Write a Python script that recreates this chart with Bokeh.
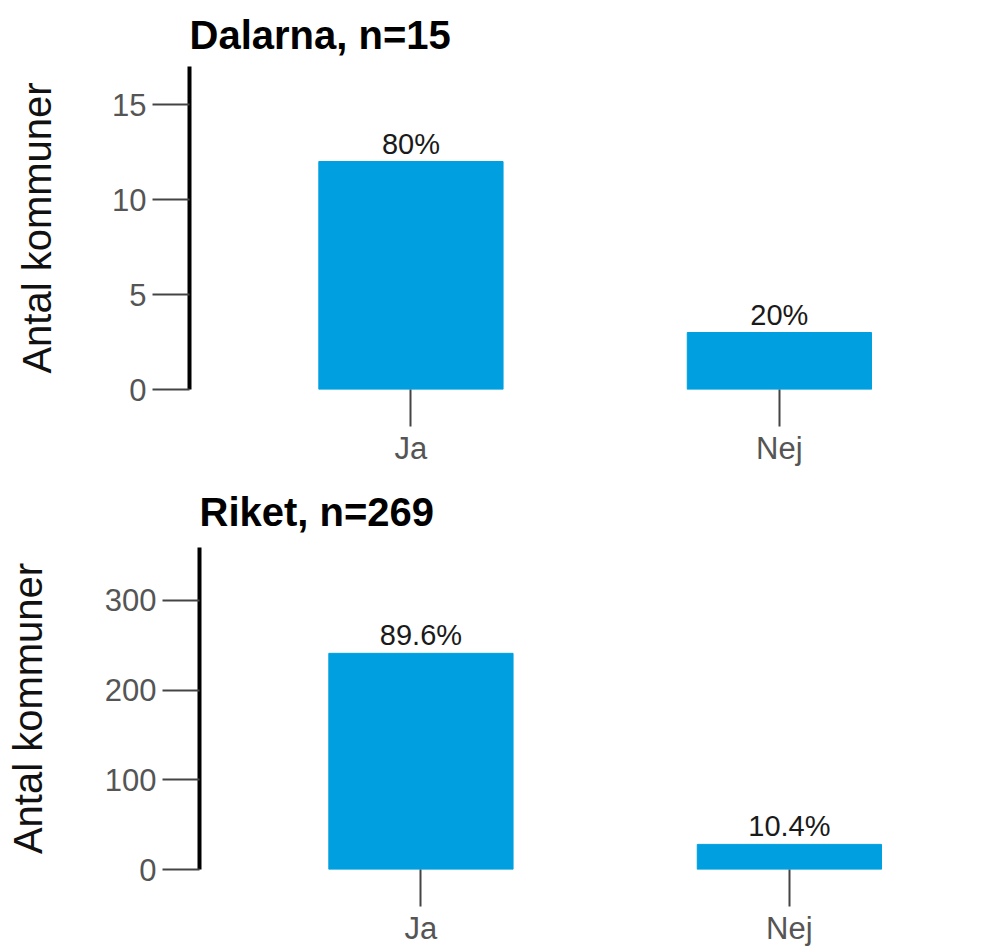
from bokeh.plotting import figure
from bokeh.models import ColumnDataSource, FixedTicker, Range1d, Spacer
from bokeh.layouts import column, row
from bokeh.core.properties import value
from bokeh.embed import file_html
from bokeh.resources import INLINE

categories = ["Ja", "Nej"]
dalarna_title = "Dalarna, n=15"
dalarna_n = 15
dalarna_counts = [12, 3]
dalarna_yticks = [0, 5, 10, 15]
dalarna_ymax = 17
riket_title = "Riket, n=269"
riket_n = 269
riket_counts = [241, 28]
riket_yticks = [0, 100, 200, 300]
riket_ymax = 359
y_title = "Antal kommuner"

FONT = "Liberation Sans"
BAR = "#009FE0"


def pct(c, n):
    v = round(c / n * 100, 1)
    s = f"{v:.1f}"
    if s.endswith(".0"):
        s = s[:-2]
    return s + "%"


def make(title, counts, n, yticks, ymax, frame_h, mbb, label_standoff, title_standoff):
    xs = list(range(len(categories)))
    src = ColumnDataSource(dict(x=xs, top=counts, label=[pct(c, n) for c in counts]))
    p = figure(title=title, x_range=Range1d(-0.601, 1.516), y_range=Range1d(0, ymax),
               frame_width=780, frame_height=frame_h, output_backend="svg",
               toolbar_location=None, min_border_left=0, min_border_right=0,
               min_border_top=0, min_border_bottom=mbb)
    if "frame_align" in p.properties():
        p.frame_align = False
    p.vbar(x="x", top="top", bottom=0, width=0.5, source=src, color=BAR)
    p.text(x="x", y="top", text="label", source=src, text_align="center",
           text_baseline="bottom", y_offset=-2, text_font=value(FONT),
           text_font_size="29px", text_color="#1a1a1a")
    p.outline_line_color = None
    p.xgrid.visible = False
    p.ygrid.visible = False
    p.background_fill_color = "white"

    p.title.text_font = FONT
    p.title.text_font_size = "40px"
    p.title.text_font_style = "bold"
    p.title.text_color = "black"
    p.title.text_line_height = 0.8
    p.title.standoff = title_standoff

    xa = p.xaxis[0]
    xa.ticker = FixedTicker(ticks=xs)
    xa.major_label_overrides = {i: c for i, c in enumerate(categories)}
    xa.axis_line_color = None
    xa.major_tick_out = 37
    xa.major_tick_in = 0
    xa.major_tick_line_color = "#444444"
    xa.major_tick_line_width = 2
    xa.minor_tick_line_color = None
    xa.major_label_text_font = FONT
    xa.major_label_text_font_size = "31px"
    xa.major_label_text_color = "#555555"
    xa.major_label_standoff = 4

    ya = p.yaxis[0]
    ya.ticker = FixedTicker(ticks=yticks)
    ya.axis_line_color = "black"
    ya.axis_line_width = 4
    ya.major_tick_out = 37
    ya.major_tick_in = 0
    ya.major_tick_line_color = "#444444"
    ya.major_tick_line_width = 2
    ya.minor_tick_line_color = None
    ya.major_label_text_font = FONT
    ya.major_label_text_font_size = "31px"
    ya.major_label_text_color = "#555555"
    ya.major_label_standoff = 6
    ya.axis_label = y_title
    ya.axis_label_text_font = FONT
    ya.axis_label_text_font_size = "40px"
    ya.axis_label_text_font_style = "normal"
    ya.axis_label_text_color = "#111111"
    ya.axis_label_standoff = label_standoff
    return p


p1 = make(dalarna_title, dalarna_counts, dalarna_n, dalarna_yticks, dalarna_ymax, 323, 85, 50, 20)
p2 = make(riket_title, riket_counts, riket_n, riket_yticks, riket_ymax, 322, 0, 52, 27)

layout = column(row(Spacer(width=12), p1, spacing=0), row(Spacer(width=2), p2, spacing=0), spacing=0)
open("out.html", "w").write(file_html(layout, INLINE))
